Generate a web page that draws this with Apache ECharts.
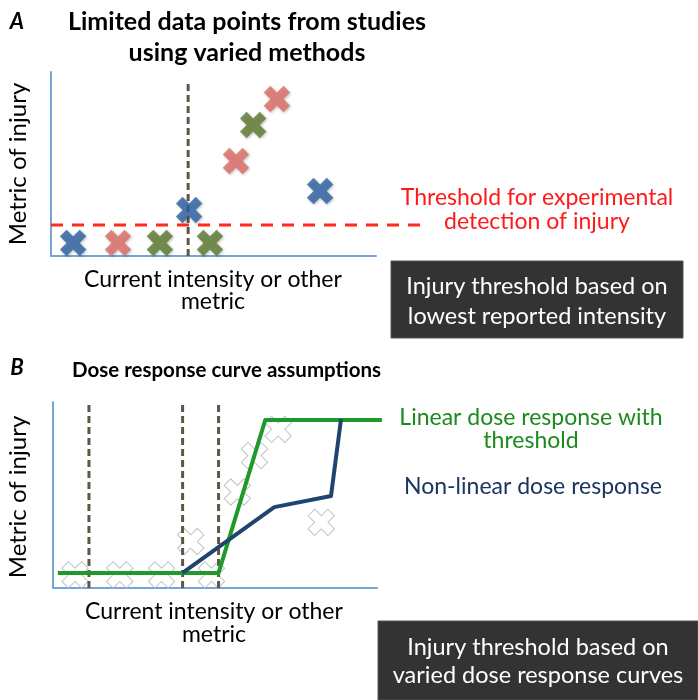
<!DOCTYPE html>
<html>
<head>
<meta charset="utf-8">
<script src="https://cdn.jsdelivr.net/npm/echarts@6/dist/echarts.min.js"></script>
<style>html,body{margin:0;padding:0;background:#fff;}#c{width:698px;height:700px;}</style>
</head>
<body>
<div id="c"></div>
<script>
// ---- data (arbitrary units: x 0..100 intensity, y 0..100 injury metric) ----
const blueStudyX = [6.8, 42.5, 82.8];
const blueStudyY = [7.1, 25.0, 35.3];
const redStudyX = [20.6, 56.9, 69.5];
const redStudyY = [7.1, 51.6, 85.3];
const greenStudyX = [33.5, 48.9, 62.2];
const greenStudyY = [7.1, 7.1, 71.2];
const detectionThresholdY = 16.8;
const detectionLineX = [0, 115];
const cutoffA = [42.2];
const cutoffATop = 94;
const cutoffsB = [11.1, 40.0, 51.1];
const cutoffBTop = 100;
const linearX = [1.5, 51.1, 65.5, 101.5];
const linearY = [8.1, 8.1, 90.3, 90.3];
const nonlinearX = [40.0, 68.3, 85.8, 88.9];
const nonlinearY = [8.1, 43.5, 49.5, 90.9];

const FONT = 'Lato, "Open Sans", sans-serif';
const crossPath = 'path://M1,0 L2,0 L2,1 L3,1 L3,2 L2,2 L2,3 L1,3 L1,2 L0,2 L0,1 L1,1 Z';
const pairs = (xs, ys) => xs.map((x, i) => [x, ys[i]]);

// grid geometry (px) and overlay grids (same scale, wider, hidden axes) for lines running past the axis end
const gA = { left: 51, top: 72, width: 325, height: 184 };
const gB = { left: 53, top: 402, width: 324, height: 186 };
const extA = 380, extB = 340;

function crossSeries(xs, ys, color, gi, ghost) {
  return {
    type: 'scatter', xAxisIndex: gi, yAxisIndex: gi, z: ghost ? 1 : 5,
    symbol: crossPath, symbolSize: 28, symbolRotate: 45,
    data: pairs(xs, ys), silent: true,
    itemStyle: ghost
      ? { color: '#ffffff', borderColor: '#b4b4b4', borderWidth: 1 }
      : { color: color, shadowBlur: 3, shadowColor: 'rgba(0,0,0,0.3)', shadowOffsetX: 1, shadowOffsetY: 1 }
  };
}
function vline(x, top, gi) {
  return {
    type: 'line', xAxisIndex: gi, yAxisIndex: gi, z: 3, symbol: 'none', silent: true,
    data: [[x, 0], [x, top]],
    lineStyle: { color: '#5e5746', width: 3, type: [7, 4] }
  };
}
const axisCommon = {
  type: 'value', min: 0, max: 100,
  axisLine: { show: true, lineStyle: { color: '#74a4d8', width: 2 } },
  axisTick: { show: false }, axisLabel: { show: false }, splitLine: { show: false }
};
const hiddenAxis = {
  type: 'value', min: 0, show: false,
  axisLine: { show: false }, axisTick: { show: false }, axisLabel: { show: false }, splitLine: { show: false }
};

const series = [
  // panel A
  vline(cutoffA[0], cutoffATop, 0),
  {
    type: 'line', xAxisIndex: 2, yAxisIndex: 2, z: 2, symbol: 'none', silent: true,
    data: detectionLineX.map(x => [x, detectionThresholdY]),
    lineStyle: { color: '#ff2a1a', width: 3, type: [12, 9] }
  },
  crossSeries(blueStudyX, blueStudyY, '#2a62a2', 0, false),
  crossSeries(redStudyX, redStudyY, '#dd6e66', 0, false),
  crossSeries(greenStudyX, greenStudyY, '#5c7a2e', 0, false),
  // panel B
  crossSeries(blueStudyX.concat(redStudyX, greenStudyX), blueStudyY.concat(redStudyY, greenStudyY), null, 1, true),
  ...cutoffsB.map(x => vline(x, cutoffBTop, 1)),
  {
    type: 'line', xAxisIndex: 3, yAxisIndex: 3, z: 4, symbol: 'none', silent: true,
    data: pairs(linearX, linearY), lineStyle: { color: '#1f9a2a', width: 4, join: 'round' }
  },
  {
    type: 'line', xAxisIndex: 3, yAxisIndex: 3, z: 5, symbol: 'none', silent: true,
    data: pairs(nonlinearX, nonlinearY), lineStyle: { color: '#1f4470', width: 4, join: 'round' }
  }
];

function txt(t, x, y, size, color, weight, extra) {
  return Object.assign({
    type: 'text', x: x, y: y, z: 10,
    style: { text: t, fill: color || '#000', font: (weight || 'normal') + ' ' + size + 'px ' + FONT,
             textAlign: 'center', textVerticalAlign: 'middle' }
  }, extra || {});
}

const graphic = [
  txt('A', 17, 22, 22, '#000', 'italic bold'),
  txt('Limited data points from studies', 247, 22, 25, '#000', 'bold'),
  txt('using varied methods', 247, 53, 25, '#000', 'bold'),
  txt('Metric of injury', 18, 164, 24, '#000', 'normal', { rotation: Math.PI / 2 }),
  txt('Current intensity or other', 213, 280, 23, '#000'),
  txt('metric', 213, 302, 23, '#000'),
  txt('Threshold for experimental', 537, 198, 23, '#ff1a1a'),
  txt('detection of injury', 537, 222, 23, '#ff1a1a'),
  { type: 'rect', shape: { x: 391, y: 261, width: 292, height: 77 }, style: { fill: '#333333', stroke: '#555', lineWidth: 1 }, z: 8 },
  txt('Injury threshold based on', 537, 286, 23.5, '#ffffff'),
  txt('lowest reported intensity', 537, 316, 23.5, '#ffffff'),

  txt('B', 17, 368, 22, '#000', 'italic bold'),
  { type: 'text', x: 72, y: 370, z: 10, style: { text: 'Dose response curve assumptions', fill: '#000', font: 'bold 20.5px ' + FONT, textAlign: 'left', textVerticalAlign: 'middle' } },
  txt('Metric of injury', 18, 497, 24, '#000', 'normal', { rotation: Math.PI / 2 }),
  txt('Current intensity or other', 214, 612, 23, '#000'),
  txt('metric', 214, 635, 23, '#000'),
  txt('Linear dose response with', 531, 418, 23, '#1c8a1c'),
  txt('threshold', 531, 441, 23, '#1c8a1c'),
  txt('Non-linear dose response', 533, 487, 23, '#1a3560'),
  { type: 'rect', shape: { x: 378, y: 621, width: 320, height: 79 }, style: { fill: '#333333', stroke: '#555', lineWidth: 1 }, z: 8 },
  txt('Injury threshold based on', 538, 647, 23.5, '#ffffff'),
  txt('varied dose response curves', 538, 675, 23.5, '#ffffff')
];

const chart = echarts.init(document.getElementById('c'), null, { renderer: 'canvas' });
chart.setOption({
  animation: false,
  backgroundColor: '#ffffff',
  grid: [
    gA, gB,
    { left: gA.left, top: gA.top, width: extA, height: gA.height },
    { left: gB.left, top: gB.top, width: extB, height: gB.height }
  ],
  xAxis: [
    Object.assign({ gridIndex: 0 }, axisCommon),
    Object.assign({ gridIndex: 1 }, axisCommon),
    Object.assign({ gridIndex: 2 }, hiddenAxis, { max: 100 * extA / gA.width }),
    Object.assign({ gridIndex: 3 }, hiddenAxis, { max: 100 * extB / gB.width })
  ],
  yAxis: [
    Object.assign({ gridIndex: 0 }, axisCommon),
    Object.assign({ gridIndex: 1 }, axisCommon),
    Object.assign({ gridIndex: 2 }, hiddenAxis, { max: 100 }),
    Object.assign({ gridIndex: 3 }, hiddenAxis, { max: 100 })
  ],
  series: series,
  graphic: graphic
});
</script>
</body>
</html>
